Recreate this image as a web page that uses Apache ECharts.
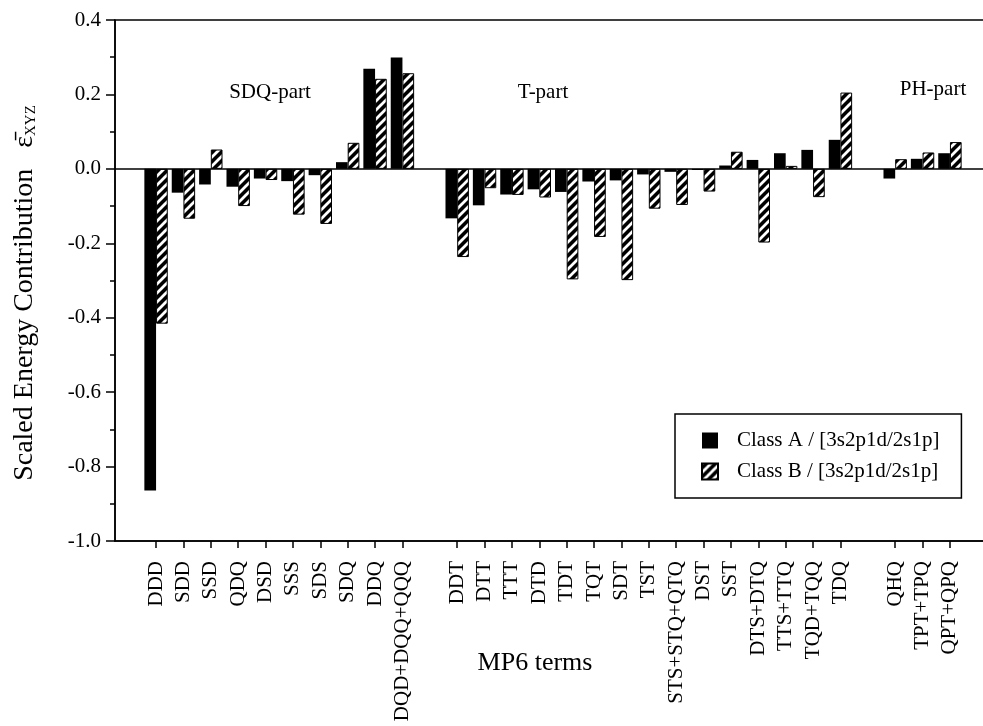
<!DOCTYPE html>
<html>
<head>
<meta charset="utf-8">
<script src="https://cdn.jsdelivr.net/npm/echarts@6/dist/echarts.min.js"></script>
<style>
  html, body { margin: 0; padding: 0; background: #fff; }
  #chart { width: 983px; height: 726px; }
</style>
</head>
<body>
<div id="chart"></div>
<script>
// MP6 terms, grouped into SDQ-, T- and PH-parts
const sdqTerms = ['DDD', 'SDD', 'SSD', 'QDQ', 'DSD', 'SSS', 'SDS', 'SDQ', 'DDQ', 'DQD+DQQ+QQQ'];
const tTerms = ['DDT', 'DTT', 'TTT', 'DTD', 'TDT', 'TQT', 'SDT', 'TST', 'STS+STQ+QTQ', 'DST',
                'SST', 'DTS+DTQ', 'TTS+TTQ', 'TQD+TQQ', 'TDQ'];
const phTerms = ['QHQ', 'TPT+TPQ', 'QPT+QPQ'];

// Class A / [3s2p1d/2s1p]
const sdqClassA = [-0.864, -0.064, -0.042, -0.048, -0.026, -0.033, -0.017, 0.018, 0.269, 0.299];
const tClassA = [-0.133, -0.098, -0.069, -0.055, -0.062, -0.034, -0.031, -0.015, -0.008, -0.003,
                 0.009, 0.024, 0.042, 0.051, 0.078];
const phClassA = [-0.026, 0.027, 0.042];

// Class B / [3s2p1d/2s1p]
const sdqClassB = [-0.416, -0.134, 0.052, -0.100, -0.030, -0.123, -0.148, 0.070, 0.242, 0.257];
const tClassB = [-0.237, -0.052, -0.070, -0.077, -0.297, -0.183, -0.299, -0.107, -0.097, -0.061,
                 0.046, -0.198, 0.008, -0.076, 0.205];
const phClassB = [0.026, 0.044, 0.072];

const seriesNames = ['Class A / [3s2p1d/2s1p]', 'Class B / [3s2p1d/2s1p]'];
const groupLabels = ['SDQ-part', 'T-part', 'PH-part'];
const yTicks = { min: -1.0, max: 0.4, step: 0.2 };

// empty slots separate the groups and pad both ends of the axis
const categories = [' ', ...sdqTerms, '  ', ...tTerms, '   ', ...phTerms, '    '];
const classA = [null, ...sdqClassA, null, ...tClassA, null, ...phClassA, null];
const classB = [null, ...sdqClassB, null, ...tClassB, null, ...phClassB, null];

const serif = "'Liberation Serif', 'Times New Roman', serif";

// diagonal hatch fill
function hatchPattern() {
  const s = 9;
  const c = document.createElement('canvas');
  c.width = s; c.height = s;
  const g = c.getContext('2d');
  g.fillStyle = '#000';
  g.fillRect(0, 0, s, s);
  g.strokeStyle = '#fff';
  g.lineWidth = 2.8;
  g.beginPath();
  for (let k = -1; k <= 1; k++) {
    g.moveTo(k * s - 1, s + 1);
    g.lineTo(k * s + s + 1, -1);
  }
  g.stroke();
  return c;
}

const chart = echarts.init(document.getElementById('chart'), null, { renderer: 'canvas' });

chart.setOption({
  animation: false,
  backgroundColor: '#fff',
  textStyle: { fontFamily: serif, color: '#000' },
  grid: {
    left: 115, top: 20, width: 876, height: 521,
    containLabel: false, outerBoundsMode: 'none',
    show: true, borderColor: '#000', borderWidth: 1.5, backgroundColor: 'transparent'
  },
  legend: {
    orient: 'vertical',
    left: 675, top: 414,
    padding: [16, 22, 16, 26],
    itemGap: 10,
    itemWidth: 16, itemHeight: 16,
    icon: 'rect',
    borderColor: '#000', borderWidth: 1.5,
    backgroundColor: '#fff',
    textStyle: { fontFamily: serif, fontSize: 21, color: '#000', padding: [0, 0, 0, 14] },
    data: seriesNames
  },
  xAxis: {
    type: 'category',
    data: categories,
    position: 'bottom',
    boundaryGap: true,
    axisLine: { show: true, onZero: false, lineStyle: { color: '#000', width: 1.5 } },
    axisTick: {
      show: true, alignWithLabel: true, length: 7,
      interval: (i, v) => String(v).trim() !== '',
      lineStyle: { color: '#000', width: 1.5 }
    },
    axisLabel: {
      interval: 0, rotate: 90, margin: 20,
      fontFamily: serif, fontSize: 21, color: '#000'
    },
    splitLine: { show: false }
  },
  yAxis: {
    type: 'value',
    min: yTicks.min, max: yTicks.max, interval: yTicks.step,
    axisLine: { show: true, onZero: false, lineStyle: { color: '#000', width: 1.5 } },
    axisTick: { show: true, length: 9, lineStyle: { color: '#000', width: 1.5 } },
    minorTick: { show: true, splitNumber: 2, length: 5, lineStyle: { color: '#000', width: 1.5 } },
    splitLine: { show: false },
    axisLabel: {
      margin: 14, fontFamily: serif, fontSize: 21, color: '#000',
      formatter: v => (Math.abs(v) < 1e-9 ? 0 : v).toFixed(1)
    }
  },
  series: [
    {
      name: seriesNames[0],
      type: 'bar',
      data: classA,
      barWidth: 11.7,
      barGap: '0%',
      itemStyle: { color: '#000' },
      markLine: {
        silent: true,
        symbol: ['none', 'none'],
        label: { show: false },
        lineStyle: { color: '#000', width: 1.5, type: 'solid' },
        data: [{ yAxis: 0 }]
      }
    },
    {
      name: seriesNames[1],
      type: 'bar',
      data: classB,
      barWidth: 11.7,
      barGap: '0%',
      itemStyle: {
        color: { image: hatchPattern(), repeat: 'repeat' },
        borderColor: '#000',
        borderWidth: 1
      }
    }
  ],
  graphic: [
    {
      type: 'text', x: 270, y: 92,
      style: { text: groupLabels[0], font: '21px ' + serif, fill: '#000', textAlign: 'center', textVerticalAlign: 'middle' }
    },
    {
      type: 'text', x: 543, y: 92,
      style: { text: groupLabels[1], font: '21px ' + serif, fill: '#000', textAlign: 'center', textVerticalAlign: 'middle' }
    },
    {
      type: 'text', x: 933, y: 89,
      style: { text: groupLabels[2], font: '21px ' + serif, fill: '#000', textAlign: 'center', textVerticalAlign: 'middle' }
    },
    {
      type: 'text', x: 535, y: 663,
      style: { text: 'MP6 terms', font: '26px ' + serif, fill: '#000', textAlign: 'center', textVerticalAlign: 'middle' }
    },
    {
      type: 'text', x: 25, y: 293, rotation: Math.PI / 2,
      style: {
        text: '{m|Scaled Energy Contribution   ε\u0304}{s|XYZ}',
        textAlign: 'center', textVerticalAlign: 'middle',
        fill: '#000',
        rich: {
          m: { fontFamily: serif, fontSize: 28, lineHeight: 28, fill: '#000' },
          s: { fontFamily: serif, fontSize: 15, lineHeight: 12, verticalAlign: 'bottom', fill: '#000' }
        }
      }
    }
  ]
});
</script>
</body>
</html>
